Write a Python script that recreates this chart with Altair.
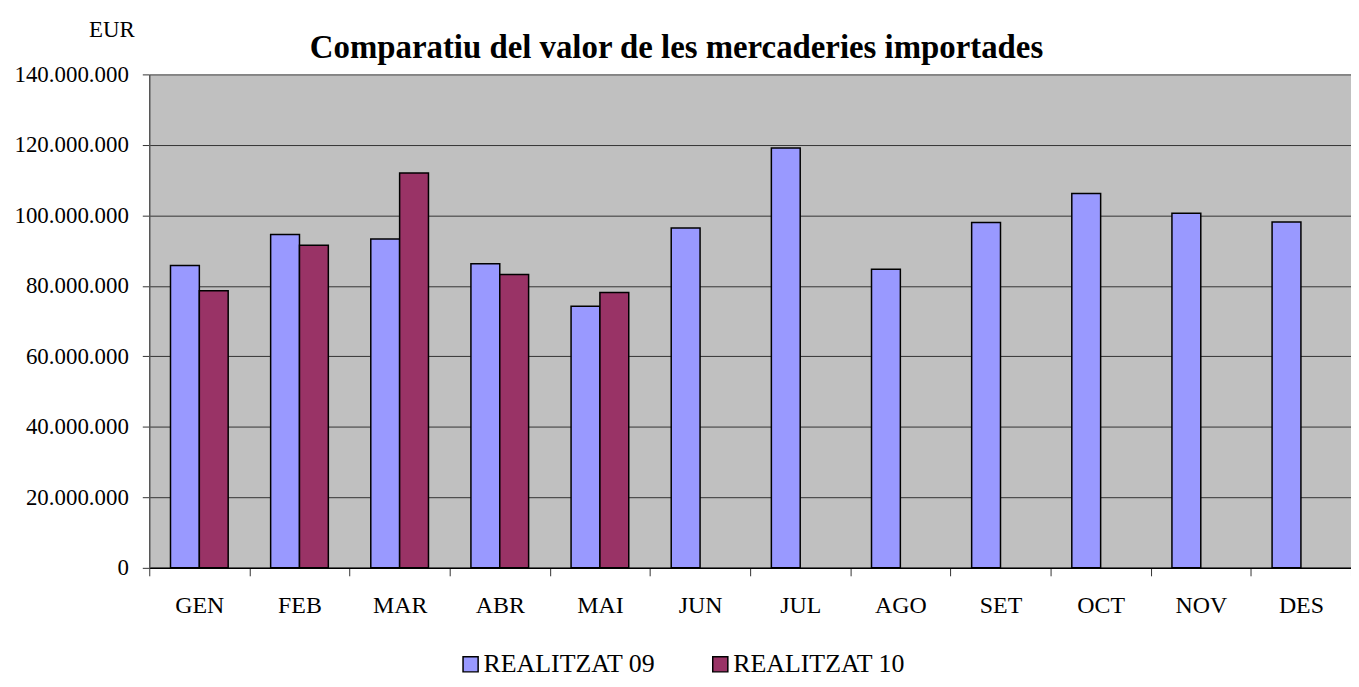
import altair as alt
import pandas as pd

months = ["GEN", "FEB", "MAR", "ABR", "MAI", "JUN", "JUL", "AGO", "SET", "OCT", "NOV", "DES"]
real09 = [85.8, 94.6, 93.3, 86.3, 74.2, 96.4, 119.1, 84.7, 98.0, 106.2, 100.6, 98.1]  # millions EUR
real10 = [78.6, 91.5, 112.0, 83.2, 78.1]  # millions EUR
series = ["REALITZAT 09", "REALITZAT 10"]
colors = ["#9999FF", "#993366"]
y_ticks = [0, 20e6, 40e6, 60e6, 80e6, 100e6, 120e6, 140e6]
title_text = "Comparatiu del valor de les mercaderies importades"

rows = []
for m, v in zip(months, real09):
    rows.append({"month": m, "series": series[0], "value": v * 1e6})
for m, v in zip(months, real10):
    rows.append({"month": m, "series": series[1], "value": v * 1e6})
df = pd.DataFrame(rows)

FONT = "Liberation Serif"

bars = alt.Chart(df).mark_bar(stroke="black", strokeWidth=1.5).encode(
    x=alt.X("month:N", sort=months,
            scale=alt.Scale(paddingInner=0, paddingOuter=0),
            axis=alt.Axis(title=None, tickBand="extent", labelAngle=0,
                          labelFontSize=24, labelColor="black",
                          labelPadding=18, tickSize=8, tickColor="#333333",
                          domainColor="black", domainWidth=1.5)),
    xOffset=alt.XOffset("series:N", sort=series,
                        scale=alt.Scale(paddingInner=0, paddingOuter=0.736)),
    y=alt.Y("value:Q", scale=alt.Scale(domain=[0, 140e6], nice=False),
            axis=alt.Axis(values=y_ticks, format=",.0f", title="EUR",
                          titleAngle=0, titleX=-38, titleY=-45,
                          titleAlign="center", titleBaseline="middle",
                          titleFontSize=23, titleFontWeight="normal",
                          titleColor="black",
                          labelFontSize=23, labelColor="black",
                          labelPadding=14, tickSize=7, tickColor="#333333",
                          domainColor="#555555", domainWidth=1.5,
                          grid=True, gridColor="#333333", gridWidth=1)),
    color=alt.Color("series:N", sort=series,
                    scale=alt.Scale(domain=series, range=colors),
                    legend=alt.Legend(title=None, orient="none", direction="horizontal",
                                      legendX=310, legendY=580,
                                      symbolType="square", symbolSize=230,
                                      symbolStrokeColor="black", symbolStrokeWidth=1.5,
                                      labelFontSize=26, labelColor="black",
                                      labelOffset=0, columnPadding=52, labelLimit=400)),
)

title = alt.Chart(pd.DataFrame({"t": [title_text]})).mark_text(
    fontSize=33, fontWeight="bold", color="black",
    align="center", baseline="alphabetic"
).encode(text="t:N", x=alt.value(530), y=alt.value(-16))

chart = alt.layer(bars, title).properties(
    width=1208,
    height=496,
    padding={"left": 142, "top": 65, "right": 0, "bottom": 110},
    autosize=alt.AutoSizeParams(type="none"),
).configure(
    font=FONT,
    locale={"number": {"decimal": ",", "thousands": ".", "grouping": [3], "currency": ["", " €"]}}
).configure_axis(
    labelFont=FONT, titleFont=FONT
).configure_legend(
    labelFont=FONT, titleFont=FONT
).configure_text(
    font=FONT
).configure_view(
    fill="#C0C0C0", stroke="transparent"
)

chart.save("out.html", embed_options={"renderer": "svg", "actions": False})
